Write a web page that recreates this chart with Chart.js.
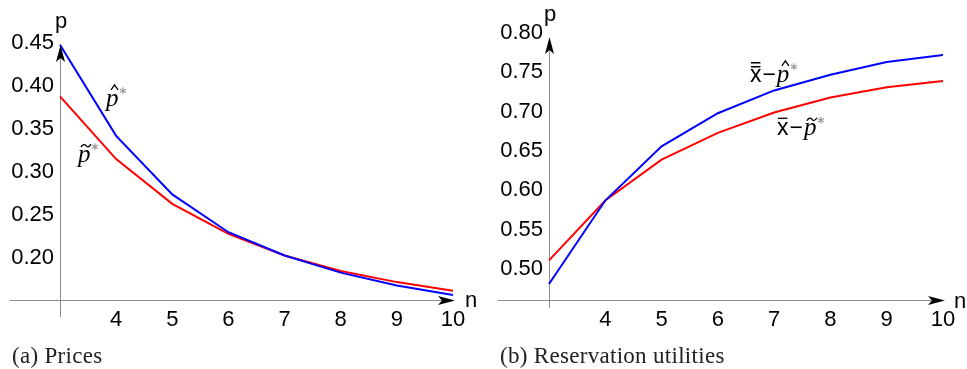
<!DOCTYPE html>
<html>
<head>
<meta charset="utf-8">
<script src="https://cdn.jsdelivr.net/npm/chart.js@4.4.1/dist/chart.umd.min.js"></script>
<style>
  body { margin: 0; background: #fff; }
  #wrap { position: relative; width: 967px; height: 369px; overflow: hidden; }
  .panel { position: absolute; top: 0; height: 369px; }
  .caption { position: absolute; top: 343px; font-family: 'Liberation Serif', serif; font-size: 23px; letter-spacing: 0.3px; color: #222; white-space: nowrap; }
</style>
</head>
<body>
<div id="wrap">
  <div class="panel" style="left:0;width:480px"><canvas id="prices"></canvas></div>
  <div class="panel" style="left:480px;width:487px"><canvas id="utilities"></canvas></div>
  <div class="caption" style="left:12px">(a) Prices</div>
  <div class="caption" style="left:500px">(b) Reservation utilities</div>
</div>
<script>
// number of firms n
const nValues = [3, 4, 5, 6, 7, 8, 9, 10];

// (a) prices
const pHat   = [0.448, 0.342, 0.274, 0.230, 0.203, 0.183, 0.168, 0.157];
const pTilde = [0.388, 0.315, 0.263, 0.228, 0.203, 0.185, 0.172, 0.162];

// (b) reservation utilities
const uHat   = [0.481, 0.587, 0.656, 0.698, 0.727, 0.747, 0.763, 0.772];
const uTilde = [0.511, 0.587, 0.639, 0.673, 0.699, 0.718, 0.731, 0.739];

const xTicks = [4, 5, 6, 7, 8, 9, 10];
const priceTicks = [0.20, 0.25, 0.30, 0.35, 0.40, 0.45];
const utilTicks = [0.50, 0.55, 0.60, 0.65, 0.70, 0.75, 0.80];

Chart.defaults.font.family = "'Liberation Sans', Arial, sans-serif";
Chart.defaults.font.size = 22;
Chart.defaults.color = '#000';

function arrowHead(ctx, tx, ty, dx, dy) {
    // notched arrow, length 17, half width 4.5
    const px = -dy, py = dx;
    ctx.beginPath();
    ctx.moveTo(tx, ty);
    ctx.lineTo(tx - dx * 17 + px * 4.5, ty - dy * 17 + py * 4.5);
    ctx.lineTo(tx - dx * 13, ty - dy * 13);
    ctx.lineTo(tx - dx * 17 - px * 4.5, ty - dy * 17 - py * 4.5);
    ctx.closePath();
    ctx.fill();
}

const mathAxes = {
    id: 'mathAxes',
    beforeDatasetsDraw(chart, args, opts) {
        const { ctx, chartArea: a } = chart;
        ctx.save();
        ctx.strokeStyle = '#8c8c8c';
        ctx.lineWidth = 1;
        ctx.beginPath();
        ctx.moveTo(opts.xFrom, a.bottom + 0.5);
        ctx.lineTo(a.right - 4, a.bottom + 0.5);
        ctx.moveTo(a.left + 0.5, opts.yFrom);
        ctx.lineTo(a.left + 0.5, a.top + 8);
        ctx.stroke();
        ctx.restore();
    },
    afterDatasetsDraw(chart, args, opts) {
        const { ctx, chartArea: a } = chart;
        ctx.save();
        ctx.fillStyle = '#000';
        arrowHead(ctx, a.right + 2, a.bottom + 0.5, 1, 0);
        arrowHead(ctx, a.left + 0.5, a.top + opts.yTip, 0, -1);
        ctx.font = "22px 'Liberation Sans', Arial";
        ctx.textBaseline = 'alphabetic';
        ctx.fillText('p', a.left + opts.p[0], a.top + opts.p[1]);
        ctx.fillText('n', a.right + opts.n[0], a.bottom + opts.n[1]);
        ctx.restore();
    }
};

function drawSymbol(ctx, x, y, item) {
    let cx = x;
    ctx.fillStyle = '#000';
    ctx.strokeStyle = '#000';
    ctx.lineWidth = 1.3;
    ctx.textBaseline = 'alphabetic';
    if (item.bars) {
        ctx.font = "23px 'Liberation Sans', Arial";
        ctx.fillText('x', cx, y);
        const w = ctx.measureText('x').width;
        ctx.beginPath();
        if (item.bars === 1) {
            ctx.moveTo(cx + 1, y - 17); ctx.lineTo(cx + w - 1, y - 17);
        } else {
            ctx.moveTo(cx + 1, y - 15); ctx.lineTo(cx + w - 1, y - 15);
            ctx.moveTo(cx + 1, y - 19); ctx.lineTo(cx + w - 1, y - 19);
        }
        ctx.stroke();
        cx += w + 1;
        ctx.fillText('\u2212', cx, y);
        cx += ctx.measureText('\u2212').width + 1;
    }
    ctx.font = "italic 25px 'Liberation Serif', serif";
    ctx.fillText('p', cx, y);
    ctx.beginPath();
    if (item.accent === 'hat') {
        const hx = cx + 8.5;
        ctx.moveTo(hx - 3.5, y - 16);
        ctx.lineTo(hx, y - 21);
        ctx.lineTo(hx + 3.5, y - 16);
    } else {
        const tx = cx + 3, ty = y - 16;
        ctx.moveTo(tx, ty + 1.5);
        ctx.bezierCurveTo(tx + 2, ty - 2, tx + 4, ty - 1.5, tx + 5, ty);
        ctx.bezierCurveTo(tx + 6, ty + 1.5, tx + 8, ty + 2, tx + 10, ty - 1.5);
    }
    ctx.stroke();
    // grey asterisk
    const sx = cx + 17, sy = y - 15;
    ctx.strokeStyle = '#999';
    ctx.lineWidth = 1.2;
    ctx.beginPath();
    for (let k = 0; k < 3; k++) {
        const ang = Math.PI / 2 + k * Math.PI / 3;
        ctx.moveTo(sx + 3.5 * Math.cos(ang), sy + 3.5 * Math.sin(ang));
        ctx.lineTo(sx - 3.5 * Math.cos(ang), sy - 3.5 * Math.sin(ang));
    }
    ctx.stroke();
}

const mathLabels = {
    id: 'mathLabels',
    afterDatasetsDraw(chart, args, opts) {
        const { ctx, scales } = chart;
        ctx.save();
        opts.items.forEach(item => {
            drawSymbol(ctx, scales.x.getPixelForValue(item.n), scales.y.getPixelForValue(item.v), item);
        });
        ctx.restore();
    }
};

function makeChart(id, hat, tilde, yTicks, cfg) {
    const ctx = document.getElementById(id).getContext('2d');
    return new Chart(ctx, {
        type: 'line',
        data: {
            datasets: [{
                data: nValues.map((n, i) => ({ x: n, y: hat[i] })),
                borderColor: '#0000ff',
                borderWidth: 2,
                pointRadius: 0,
                clip: false
            }, {
                data: nValues.map((n, i) => ({ x: n, y: tilde[i] })),
                borderColor: '#ff0000',
                borderWidth: 2,
                pointRadius: 0,
                clip: false
            }]
        },
        options: {
            responsive: true,
            maintainAspectRatio: false,
            animation: false,
            layout: { padding: { left: 10, right: cfg.padRight, top: cfg.padTop, bottom: 0 } },
            scales: {
                x: {
                    type: 'linear',
                    min: 3,
                    max: 10,
                    border: { display: false },
                    grid: { display: false, drawTicks: false },
                    afterBuildTicks: s => { s.ticks = xTicks.map(v => ({ value: v })); },
                    afterFit: s => { s.height = 69; },
                    ticks: { padding: 7, callback: v => String(v), maxRotation: 0, autoSkip: false }
                },
                y: {
                    min: cfg.yMin,
                    max: cfg.yMax,
                    border: { display: false },
                    grid: { display: false, drawTicks: false },
                    afterBuildTicks: s => { s.ticks = yTicks.map(v => ({ value: v })); },
                    afterFit: s => { s.width = cfg.yWidth; },
                    ticks: { padding: 6, callback: v => v.toFixed(2), autoSkip: false }
                }
            },
            plugins: {
                legend: { display: false },
                tooltip: { enabled: false },
                mathAxes: cfg.axes,
                mathLabels: { items: cfg.labels }
            }
        },
        plugins: [mathAxes, mathLabels]
    });
}

makeChart('prices', pHat, pTilde, priceTicks, {
    padRight: 27, padTop: 43, yWidth: 50, yMin: 0.1512, yMax: 0.45,
    axes: { xFrom: 10, yFrom: 317, yTip: 2, p: [-5, -15], n: [12, 7] },
    labels: [
        { n: 3.82, v: 0.377, accent: 'hat' },
        { n: 3.32, v: 0.312, accent: 'tilde' }
    ]
});

makeChart('utilities', uHat, uTilde, utilTicks, {
    padRight: 24, padTop: 33, yWidth: 59, yMin: 0.4606, yMax: 0.80,
    axes: { xFrom: 18, yFrom: 308, yTip: 4, p: [-5, -12], n: [11, 8] },
    labels: [
        { n: 6.57, v: 0.738, bars: 2, accent: 'hat' },
        { n: 7.05, v: 0.670, bars: 1, accent: 'tilde' }
    ]
});
</script>
</body>
</html>
